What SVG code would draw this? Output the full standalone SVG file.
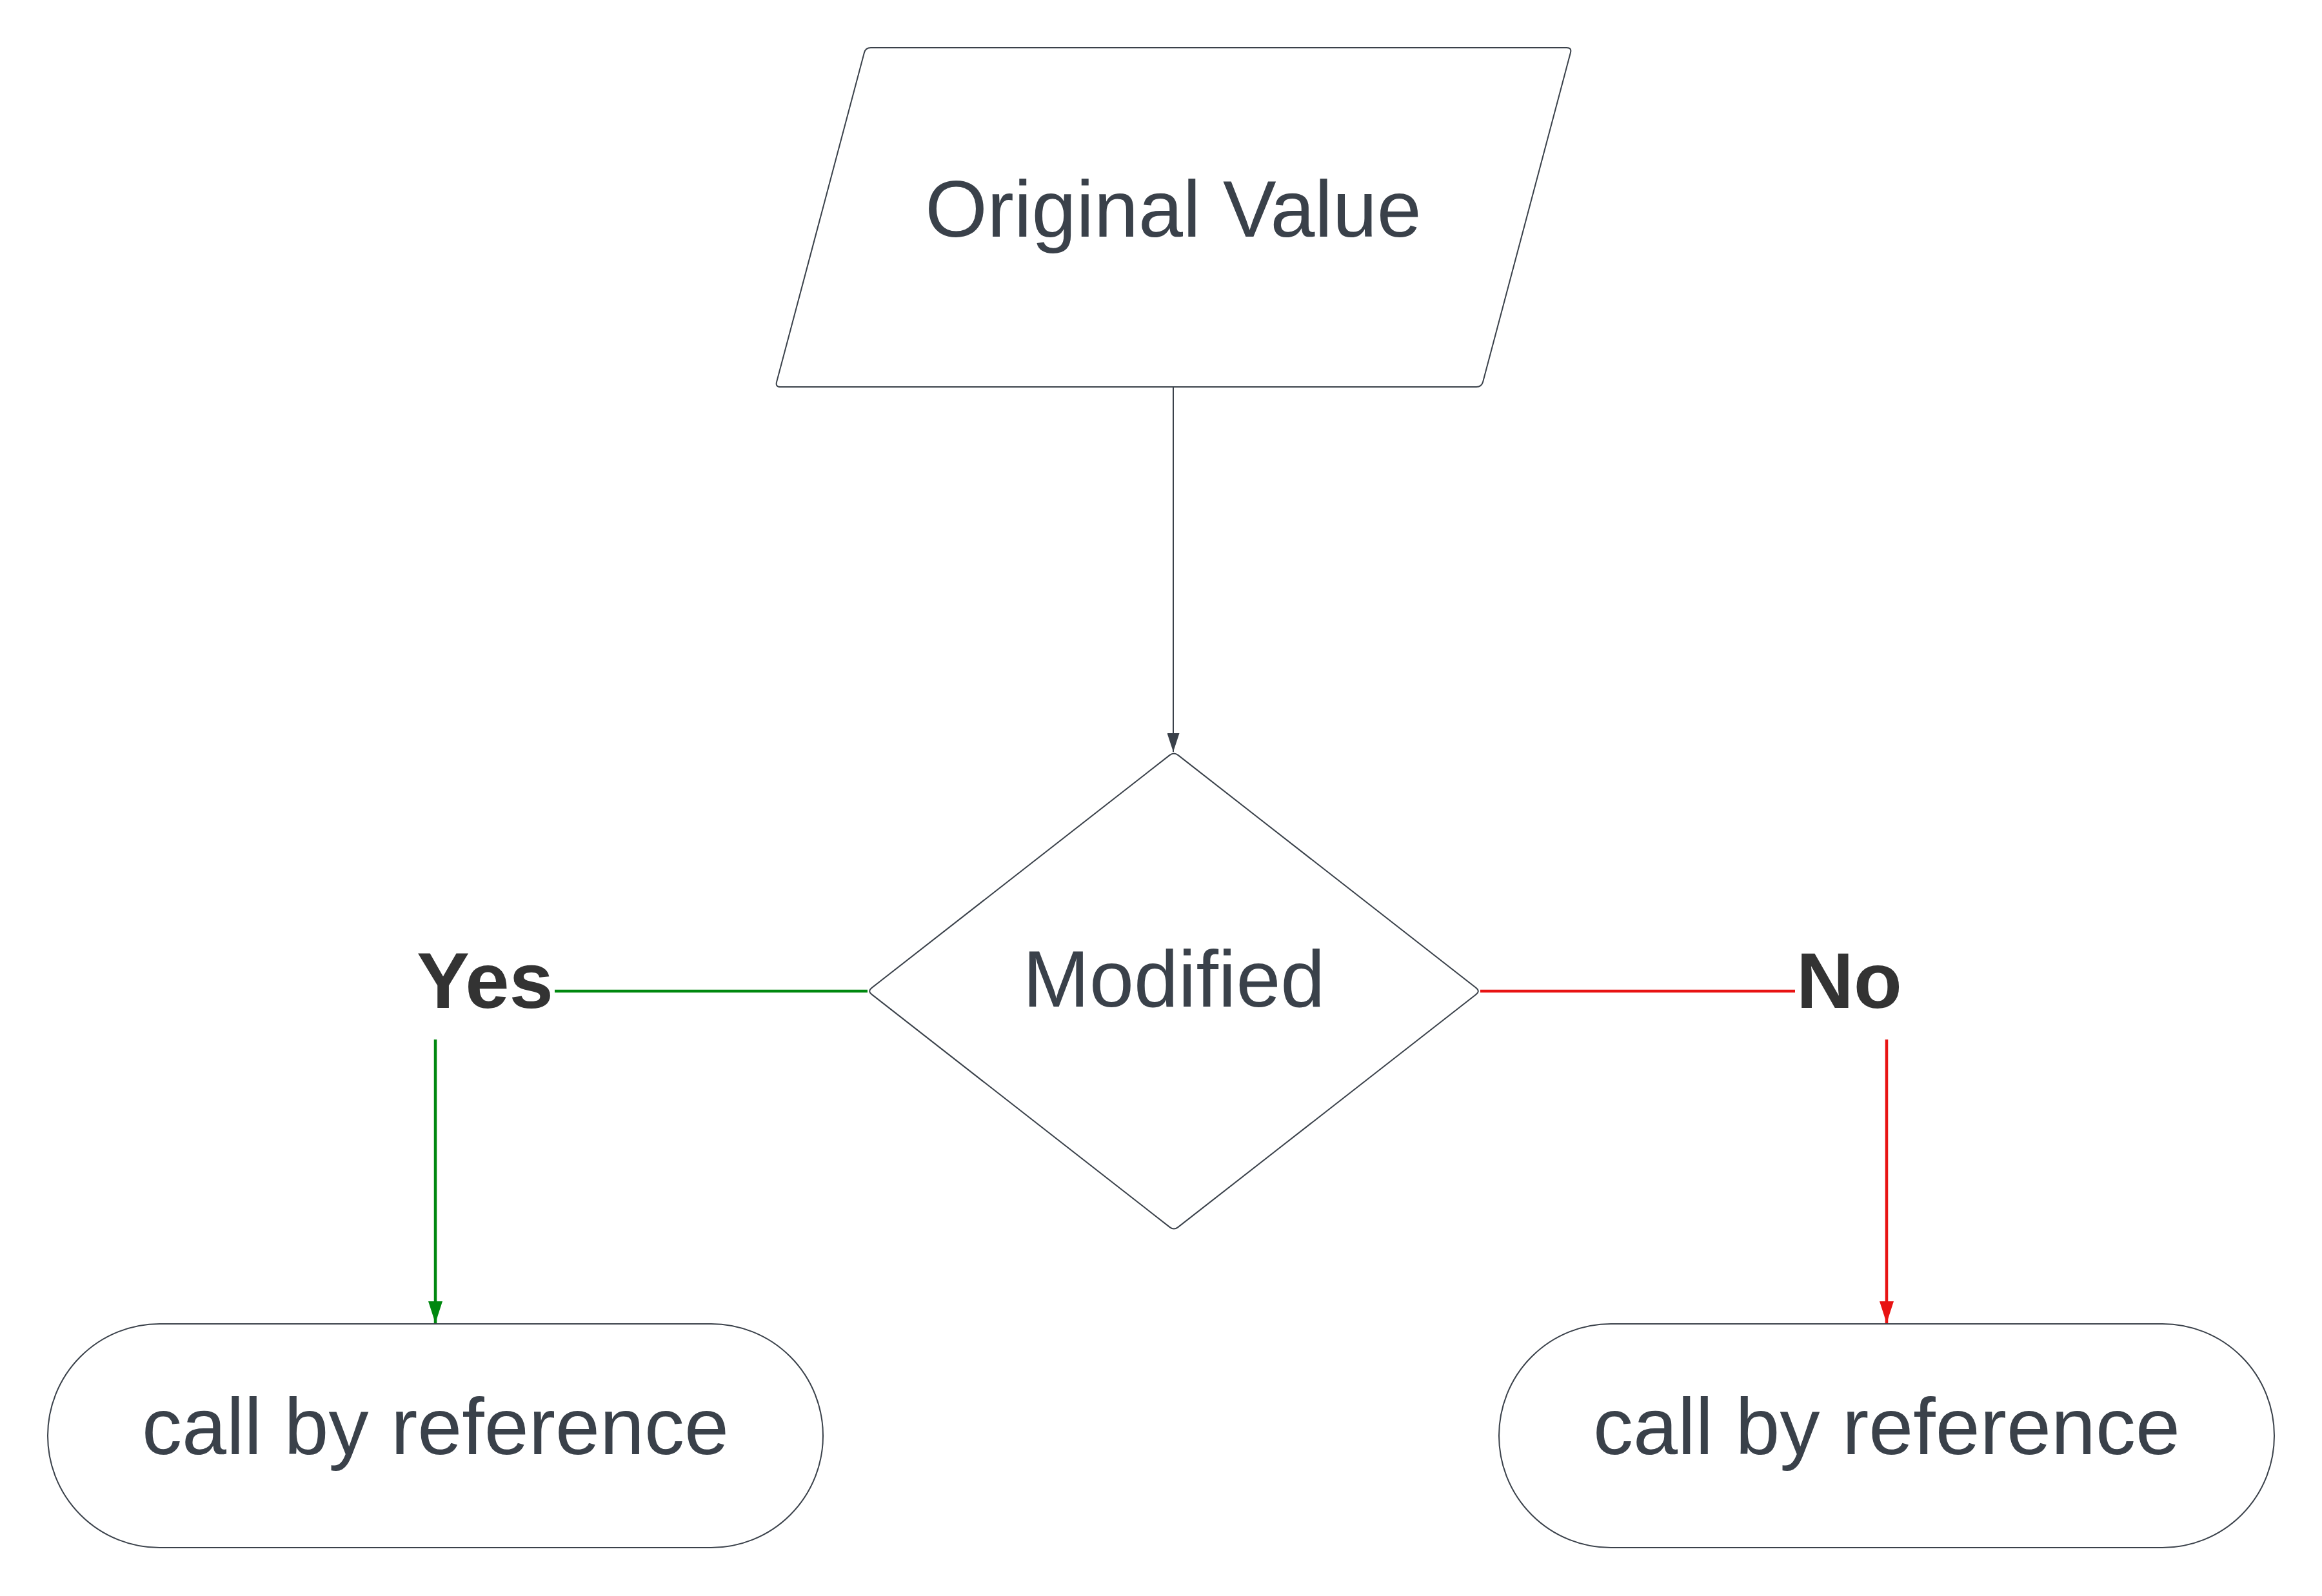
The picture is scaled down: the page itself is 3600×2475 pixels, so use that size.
<svg xmlns="http://www.w3.org/2000/svg" width="3600" height="2475" viewBox="0 0 3600 2475">
  <style>
    .shape { fill: #ffffff; stroke: #3a414a; stroke-width: 2; }
    .lbl { font-family: "Liberation Sans", Arial, sans-serif; font-size: 124px; fill: #3a414a; text-anchor: middle; }
    .branch { font-family: "Liberation Sans", Arial, sans-serif; font-size: 123px; font-weight: bold; fill: #333333; text-anchor: middle; }
    .gray { stroke: #3a414a; stroke-width: 2; fill: none; }
    .green { stroke: #00880f; stroke-width: 4.5; fill: none; }
    .red { stroke: #e81313; stroke-width: 4.5; fill: none; }
  </style>
  <defs>
    <marker id="arrGray" markerUnits="userSpaceOnUse" markerWidth="29" markerHeight="19" refX="29" refY="9.5" orient="auto">
      <path d="M0,0 L29,9.5 L0,19 Z" fill="#3a414a"/>
    </marker>
    <marker id="arrGreen" markerUnits="userSpaceOnUse" markerWidth="34" markerHeight="22" refX="34" refY="11" orient="auto">
      <path d="M0,0 L34,11 L0,22 Z" fill="#00880f"/>
    </marker>
    <marker id="arrRed" markerUnits="userSpaceOnUse" markerWidth="34" markerHeight="22" refX="34" refY="11" orient="auto">
      <path d="M0,0 L34,11 L0,22 Z" fill="#e81313"/>
    </marker>
  </defs>
  <rect width="3600" height="2475" fill="#ffffff"/>

  <g id="connectors">
    <path class="gray" d="M1819,600 V1166" marker-end="url(#arrGray)"/>
    <path class="green" d="M1345,1537 H860"/>
    <path class="green" d="M675,1612 V2052" marker-end="url(#arrGreen)"/>
    <path class="red" d="M2295,1537 H2783"/>
    <path class="red" d="M2925,1612 V2052" marker-end="url(#arrRed)"/>
    <text class="branch" x="752" y="1563">Yes</text>
    <text class="branch" x="2867" y="1563">No</text>
  </g>

  <g id="original-value">
    <path class="shape" d="M1350,74 H2429 Q2437,74 2434.9,81.7 L2299.1,592.3 Q2297,600 2289,600 H1210 Q1202,600 1204.1,592.3 L1339.9,81.7 Q1342,74 1350,74 Z"/>
    <text class="lbl" x="1819" y="367">Original Value</text>
  </g>

  <g id="modified">
    <path class="shape" d="M1826.3,1170.9 L2288.7,1532.1 Q2295,1537 2288.7,1541.9 L1826.3,1903.1 Q1820,1908 1813.7,1903.1 L1351.3,1541.9 Q1345,1537 1351.3,1532.1 L1813.7,1170.9 Q1820,1166 1826.3,1170.9 Z"/>
    <text class="lbl" x="1820" y="1561">Modified</text>
  </g>

  <g id="yes-result">
    <rect class="shape" x="74" y="2053" width="1202" height="347" rx="173.5" ry="173.5"/>
    <text class="lbl" x="675" y="2255">call by reference</text>
  </g>

  <g id="no-result">
    <rect class="shape" x="2324" y="2053" width="1202" height="347" rx="173.5" ry="173.5"/>
    <text class="lbl" x="2925" y="2255">call by reference</text>
  </g>
</svg>
